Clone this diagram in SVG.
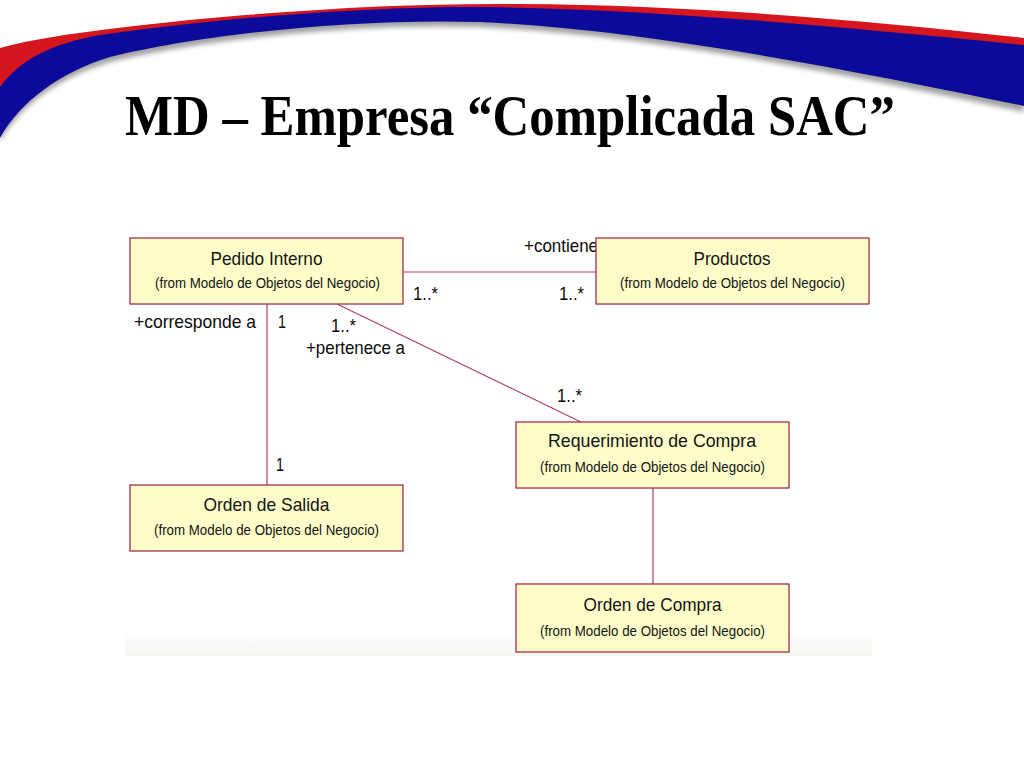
<svg xmlns="http://www.w3.org/2000/svg" width="1024" height="768" viewBox="0 0 1024 768">
  <defs>
    <filter id="shadow" x="-5%" y="-50%" width="110%" height="200%">
      <feGaussianBlur stdDeviation="2.5"/>
    </filter>
    <linearGradient id="fade" x1="0" y1="0" x2="0" y2="1">
      <stop offset="0" stop-color="#ffffff"/>
      <stop offset="1" stop-color="#f3f6f1"/>
    </linearGradient>
  </defs>
  <style>
    .box { fill: #fefdca; stroke: #a52d4b; stroke-width: 1.3; }
    .name { font-family: "Liberation Sans", Arial, sans-serif; font-size: 19px; fill: #141414; text-anchor: middle; }
    .from { font-family: "Liberation Sans", Arial, sans-serif; font-size: 14.5px; fill: #141414; text-anchor: middle; }
    .lbl { font-family: "Liberation Sans", Arial, sans-serif; font-size: 19px; fill: #0a0a0a; }
    .conn { stroke: #b03d60; stroke-width: 1.2; fill: none; }
  </style>

  <rect x="0" y="0" width="1024" height="768" fill="#ffffff"/>

  <!-- header swoosh -->
  <g id="swoosh">
    <path d="M0,92 C20,65 50,49 100,40 C180,29 300,15 450,12 C600,11 800,27 1024,50 L1024,112 C850,75 650,35 480,27 C350,23 200,40 110,62 C60,77 20,105 0,142 Z" fill="#555555" opacity="0.55" filter="url(#shadow)"/>
    <path d="M0,48 C40,37 100,29 200,19 C320,8 420,3 520,4 C700,5 880,22 1024,38 L1024,50 C800,26 600,10 450,11 C300,14 180,28 100,39 C50,48 20,64 0,92 Z" fill="#d5161f"/>
    <path d="M0,87 C20,60 50,44 100,35 C180,24 300,10 450,7 C600,6 800,22 1024,45 L1024,106 C850,70 650,30 480,22 C350,18 200,35 110,57 C60,72 20,102 0,138 Z" fill="#0c0a98"/>
  </g>

  <text x="125" y="135" font-family="Liberation Serif, 'Times New Roman', serif" font-weight="bold" font-size="57" textLength="770" lengthAdjust="spacingAndGlyphs" fill="#000000">MD – Empresa “Complicada SAC”</text>

  <!-- faint diagram background band -->
  <rect x="125" y="630" width="747" height="26" fill="url(#fade)"/>

  <g id="connectors">
    <line class="conn" x1="403" y1="272" x2="596" y2="272"/>
    <line class="conn" x1="267" y1="304" x2="267" y2="485"/>
    <line class="conn" x1="337" y1="304" x2="581" y2="422"/>
    <line class="conn" x1="653" y1="488" x2="653" y2="584"/>
  </g>

  <g id="labels">
    <text class="lbl" x="524" y="252" textLength="74" lengthAdjust="spacingAndGlyphs">+contiene</text>
    <text class="lbl" x="413" y="300" textLength="25" lengthAdjust="spacingAndGlyphs">1..*</text>
    <text class="lbl" x="559" y="300" textLength="25" lengthAdjust="spacingAndGlyphs">1..*</text>
    <text class="lbl" x="134" y="328" textLength="122" lengthAdjust="spacingAndGlyphs">+corresponde a</text>
    <text class="lbl" x="278" y="328" textLength="8" lengthAdjust="spacingAndGlyphs">1</text>
    <text class="lbl" x="331" y="332" textLength="25" lengthAdjust="spacingAndGlyphs">1..*</text>
    <text class="lbl" x="306" y="354" textLength="99" lengthAdjust="spacingAndGlyphs">+pertenece a</text>
    <text class="lbl" x="557" y="402" textLength="25" lengthAdjust="spacingAndGlyphs">1..*</text>
    <text class="lbl" x="276" y="471" textLength="8" lengthAdjust="spacingAndGlyphs">1</text>
  </g>

  <g id="pedido-interno">
    <rect class="box" x="130" y="238" width="273" height="66"/>
    <text class="name" x="266.5" y="265" textLength="112" lengthAdjust="spacingAndGlyphs">Pedido Interno</text>
    <text class="from" x="267.5" y="288" textLength="225" lengthAdjust="spacingAndGlyphs">(from Modelo de Objetos del Negocio)</text>
  </g>

  <g id="productos">
    <rect class="box" x="596" y="238" width="273" height="66"/>
    <text class="name" x="732" y="265" textLength="77" lengthAdjust="spacingAndGlyphs">Productos</text>
    <text class="from" x="732.5" y="288" textLength="225" lengthAdjust="spacingAndGlyphs">(from Modelo de Objetos del Negocio)</text>
  </g>

  <g id="requerimiento-de-compra">
    <rect class="box" x="516" y="422" width="273" height="66"/>
    <text class="name" x="652" y="447" textLength="208" lengthAdjust="spacingAndGlyphs">Requerimiento de Compra</text>
    <text class="from" x="652.5" y="472" textLength="225" lengthAdjust="spacingAndGlyphs">(from Modelo de Objetos del Negocio)</text>
  </g>

  <g id="orden-de-salida">
    <rect class="box" x="130" y="485" width="273" height="66"/>
    <text class="name" x="266.5" y="511" textLength="126" lengthAdjust="spacingAndGlyphs">Orden de Salida</text>
    <text class="from" x="266.5" y="535" textLength="225" lengthAdjust="spacingAndGlyphs">(from Modelo de Objetos del Negocio)</text>
  </g>

  <g id="orden-de-compra">
    <rect class="box" x="516" y="584" width="273" height="68"/>
    <text class="name" x="652.5" y="611" textLength="138" lengthAdjust="spacingAndGlyphs">Orden de Compra</text>
    <text class="from" x="652.5" y="636" textLength="225" lengthAdjust="spacingAndGlyphs">(from Modelo de Objetos del Negocio)</text>
  </g>
</svg>
